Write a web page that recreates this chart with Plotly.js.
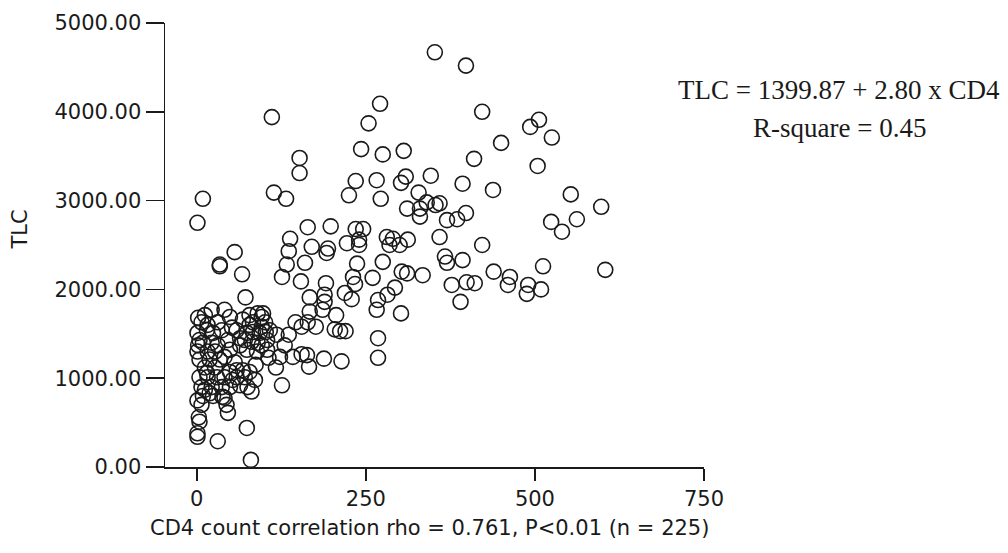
<!DOCTYPE html>
<html><head><meta charset="utf-8">
<script src="https://cdn.plot.ly/plotly-3.0.1.min.js"></script>
<style>html,body{margin:0;padding:0;background:#fff}#chart{width:1008px;height:553px}</style>
</head><body><div id="chart"></div>
<script>
// CD4 count (x) and TLC (y) for each patient
const cd4 = [
  352,398,271,254,422,243,275,306,506,493,525,450,410,504,235,266,309,302,346,393,
  438,225,272,328,340,353,311,330,330,370,385,398,553,598,524,540,562,198,235,246,
  359,422,222,240,240,281,290,312,285,300,194,604,367,370,393,512,439,463,460,490,
  488,509,377,399,411,390,334,311,303,293,302,359,152,152,164,170,160,237,275,111,
  9,1,114,132,138,136,56,34,34,67,133,126,154,191,231,234,260,167,189,189,
  219,229,268,282,266,167,186,206,176,164,146,155,204,212,220,98,96,118,136,104,
  104,123,142,155,163,106,166,188,214,268,268,117,126,192,
  72,22,2,41,49,78,90,96,83,7,1,15,24,52,59,74,83,93,102,9,
  22,81,90,1,16,27,49,74,89,4,19,41,59,68,78,49,4,16,30,41,
  59,71,7,22,37,49,64,75,81,9,24,41,1,7,44,46,3,4,1,1,
  31,74,80,64,15,19,38,
  12,31,68,101,4,31,64,96,12,27,53,86,108,12,2,37,46,78,130,87,
  34,56,71,16
];
const tlc = [
  4670,4520,4090,3870,4000,3580,3520,3560,3910,3830,3710,3650,3470,3390,3220,3230,3270,3200,3280,3190,
  3120,3060,3020,3090,2980,2950,2910,2910,2820,2780,2790,2860,3070,2930,2760,2650,2790,2710,2680,2680,
  2590,2500,2520,2560,2500,2590,2570,2560,2500,2500,2460,2220,2370,2300,2330,2260,2200,2140,2050,2050,
  1950,2000,2050,2080,2070,1860,2160,2180,2200,2020,1730,2970,3480,3310,2700,2480,2300,2290,2310,3940,
  3020,2750,3090,3020,2570,2430,2420,2280,2260,2170,2280,2140,2090,2070,2140,2060,2130,1910,1940,1860,
  1960,1890,1880,1940,1770,1750,1770,1710,1580,1630,1630,1580,1550,1530,1530,1730,1580,1490,1490,1430,
  1320,1240,1240,1270,1260,1230,1130,1220,1190,1450,1230,1120,920,2410,
  1910,1770,1680,1770,1690,1710,1730,1690,1630,1630,1510,1540,1510,1570,1540,1510,1520,1510,1520,1400,
  1400,1410,1400,1300,1300,1300,1320,1320,1300,1210,1210,1240,1090,1090,1070,1070,1010,1010,1010,1010,
  1010,1010,900,900,900,900,920,900,850,800,800,780,750,700,700,610,560,510,380,340,
  290,440,80,1450,1060,830,790,
  1710,1630,1660,1630,1430,1370,1370,1370,1120,1120,980,980,1540,870,1370,1540,1430,1600,1370,1150,
  1210,1180,1430,1600
];
const xTicks = [0, 250, 500, 750];
const yTicks = [0, 1000, 2000, 3000, 4000, 5000];
const xTitle = "CD4 count correlation rho = 0.761, P<0.01 (n = 225)";
const yTitle = "TLC";
const equationText = "TLC = 1399.87 + 2.80 x CD4";
const rSquareText = "R-square = 0.45";

const ink = '#1a1a1a';
const sans = {family: 'DejaVu Sans', size: 21, color: ink};
const serif = {family: 'Liberation Serif', size: 27, color: ink};

const trace = {
  type: 'scatter', mode: 'markers', x: cd4, y: tlc, cliponaxis: false,
  marker: {symbol: 'circle-open', size: 15, color: ink, line: {width: 1.6, color: ink}},
  hoverinfo: 'x+y', showlegend: false
};

const layout = {
  width: 1008, height: 553,
  margin: {l: 165, r: 304, t: 23, b: 86, pad: 0},
  paper_bgcolor: '#fff', plot_bgcolor: '#fff',
  font: sans,
  xaxis: {
    range: [-47, 750], tickvals: xTicks, ticktext: xTicks.map(String),
    ticks: 'outside', ticklen: 12, tickwidth: 1.5, tickcolor: ink,
    showline: true, linecolor: ink, linewidth: 1.5, mirror: false,
    showgrid: false, zeroline: false, tickfont: sans, fixedrange: true
  },
  yaxis: {
    range: [0, 5000], tickvals: yTicks, tickformat: '.2f',
    ticks: 'outside', ticklen: 18, tickwidth: 1.5, tickcolor: ink,
    showline: true, linecolor: ink, linewidth: 1.5, mirror: false,
    showgrid: false, zeroline: false, tickfont: sans, fixedrange: true
  },
  annotations: [
    {text: xTitle, xref: 'paper', yref: 'paper', x: 0.49, y: -0.137,
     xanchor: 'center', yanchor: 'middle', showarrow: false, font: sans},
    {text: yTitle, xref: 'paper', yref: 'paper', x: -0.269, y: 0.535, textangle: -90,
     xanchor: 'center', yanchor: 'middle', showarrow: false, font: sans},
    {text: equationText, xref: 'paper', yref: 'paper', x: 1.2505, y: 0.849,
     xanchor: 'center', yanchor: 'middle', showarrow: false, font: serif},
    {text: rSquareText, xref: 'paper', yref: 'paper', x: 1.2505, y: 0.7635,
     xanchor: 'center', yanchor: 'middle', showarrow: false, font: serif}
  ]
};

Plotly.newPlot('chart', [trace], layout, {staticPlot: true, displayModeBar: false});
</script>
</body></html>
